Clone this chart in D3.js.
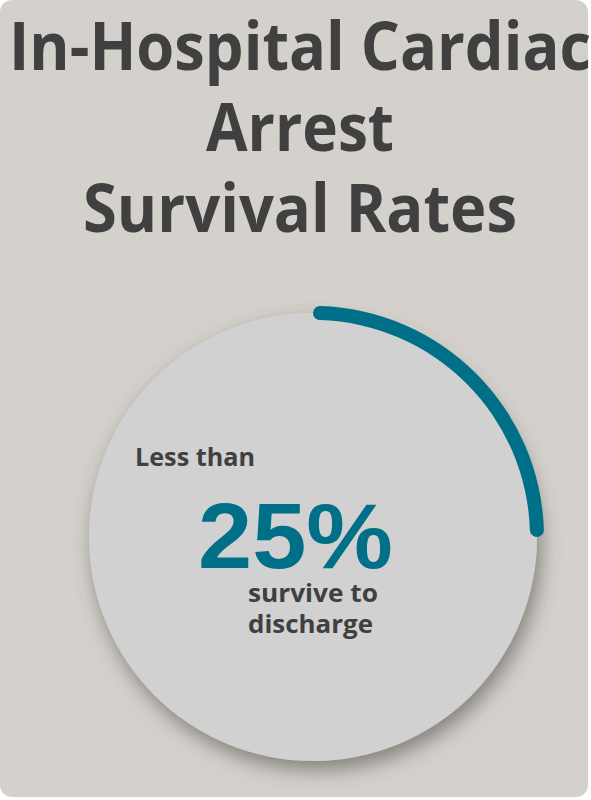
<!DOCTYPE html>
<html>
<head>
<meta charset="utf-8">
<script src="https://cdn.jsdelivr.net/npm/d3@7"></script>
<style>
  body { margin: 0; background: #ffffff; }
  svg { display: block; }
</style>
</head>
<body>
<div id="chart"></div>
<script>
// data
let titleLines = ["In-Hospital Cardiac", "Arrest", "Survival Rates"]
let titleWidths = [582, 188, 434]
let survivalPct = [25]
let pctLabel = ["25%"]
let preLabel = ["Less than"]
let postLabel = ["survive to", "discharge"]

let svgWidth = 591
let svgHeight = 800
let cx = 313, cy = 537, radius = 224

let svg = d3.select("#chart")
  .append("svg")
  .attr("width", svgWidth)
  .attr("height", svgHeight)

// shadow filter
let defs = svg.append("defs")
let filter = defs.append("filter")
  .attr("id", "shadow")
  .attr("x", "-20%").attr("y", "-20%")
  .attr("width", "140%").attr("height", "140%")
filter.append("feDropShadow")
  .attr("dx", 4).attr("dy", 9)
  .attr("stdDeviation", 10)
  .attr("flood-color", "#4f4b45")
  .attr("flood-opacity", 0.6)

// card
svg.append("rect")
  .attr("x", 0).attr("y", 0)
  .attr("width", 588).attr("height", 797)
  .attr("rx", 12)
  .attr("fill", "#d4d1cc")

// title
svg.selectAll("text.title")
  .data(titleLines)
  .enter()
  .append("text")
  .attr("class", "title")
  .attr("x", 300)
  .attr("y", (d, i) => 70 + i * 81)
  .attr("text-anchor", "middle")
  .attr("font-family", "'Open Sans', sans-serif")
  .attr("font-weight", 700)
  .attr("font-size", 66)
  .attr("fill", "#404040")
  .attr("textLength", (d, i) => titleWidths[i])
  .attr("lengthAdjust", "spacingAndGlyphs")
  .text(d => d)

// donut
let g = svg.append("g")
  .attr("transform", `translate(${cx},${cy})`)

g.append("circle")
  .attr("r", radius)
  .attr("fill", "#d1d1d1")
  .attr("filter", "url(#shadow)")

let angle = d3.scaleLinear().domain([0, 100]).range([0, 2 * Math.PI])
let arc = d3.arc()
  .innerRadius(radius - 7)
  .outerRadius(radius + 7)
  .cornerRadius(7)
  .startAngle(0)
  .endAngle(d => angle(d))

g.selectAll("path.val")
  .data(survivalPct)
  .enter()
  .append("path")
  .attr("class", "val")
  .attr("d", arc)
  .attr("fill", "#006f88")

// labels
svg.selectAll("text.pre")
  .data(preLabel)
  .enter()
  .append("text")
  .attr("class", "pre")
  .attr("x", 135).attr("y", 466)
  .attr("font-family", "'Open Sans', sans-serif")
  .attr("font-weight", 700)
  .attr("font-size", 25)
  .attr("fill", "#404040")
  .attr("textLength", 120)
  .attr("lengthAdjust", "spacingAndGlyphs")
  .text(d => d)

svg.selectAll("text.pct")
  .data(pctLabel)
  .enter()
  .append("text")
  .attr("class", "pct")
  .attr("x", 198).attr("y", 568)
  .attr("font-family", "'Liberation Sans', Arial, sans-serif")
  .attr("font-weight", 700)
  .attr("font-size", 92)
  .attr("fill", "#006f88")
  .attr("textLength", 195)
  .attr("lengthAdjust", "spacingAndGlyphs")
  .text(d => d)

let postW = [130, 125]
svg.selectAll("text.post")
  .data(postLabel)
  .enter()
  .append("text")
  .attr("class", "post")
  .attr("x", 248)
  .attr("y", (d, i) => 602 + i * 31)
  .attr("font-family", "'Open Sans', sans-serif")
  .attr("font-weight", 700)
  .attr("font-size", 25)
  .attr("fill", "#404040")
  .attr("textLength", (d, i) => postW[i])
  .attr("lengthAdjust", "spacingAndGlyphs")
  .text(d => d)
</script>
</body>
</html>
